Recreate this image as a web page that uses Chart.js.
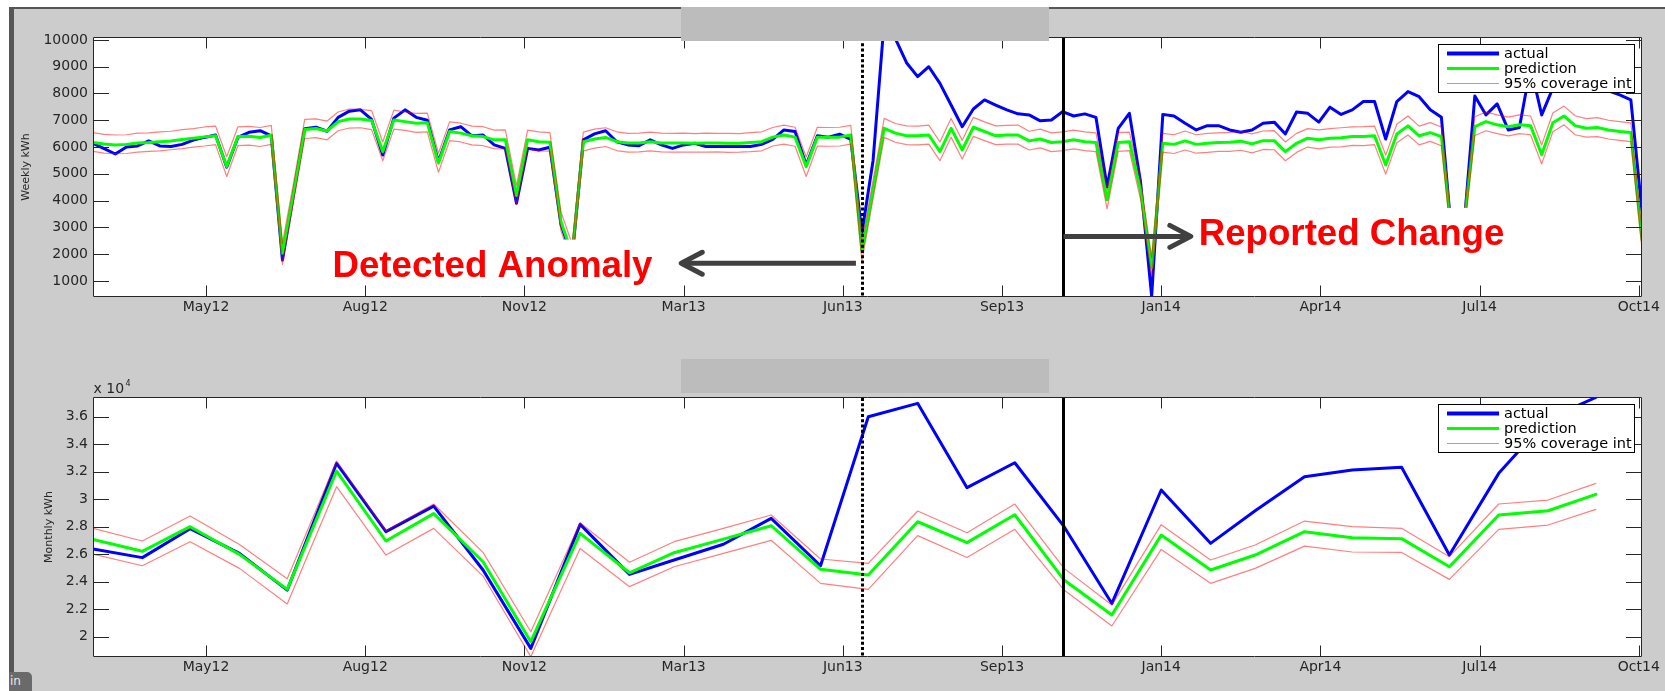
<!DOCTYPE html>
<html>
<head>
<meta charset="utf-8">
<title>Weekly and monthly energy use</title>
<script src="https://cdn.jsdelivr.net/npm/chart.js@4.4.1/dist/chart.umd.min.js"></script>
<style>
  html, body { margin: 0; padding: 0; width: 1665px; height: 691px; overflow: hidden; background: #ffffff; }
  #bg { position: absolute; left: 9px; top: 7px; right: 0; bottom: 0; background: #cccccc;
        border-left: 5px solid #565656; border-top: 2px solid #565656; }
  canvas { position: absolute; left: 0; }
  #weekly { top: 0; }
  #monthly { top: 350px; }
  .band { position: absolute; background: #bcbcbc; }
  #tab { position: absolute; left: 9px; top: 672px; width: 23px; height: 19px; background: #6a6a6a;
         border-top-right-radius: 5px; color: #e8e8e8; font: 12px "DejaVu Sans", sans-serif;
         line-height: 19px; padding-left: 1px; box-sizing: border-box; }
</style>
</head>
<body>
<div id="bg"></div>
<canvas id="weekly" width="1665" height="340"></canvas>
<canvas id="monthly" width="1665" height="341"></canvas>
<div class="band" style="left:681px;top:7px;width:368px;height:34px"></div>
<div class="band" style="left:681px;top:359px;width:368px;height:34px"></div>
<div id="tab">in</div>
<script>
// ---- weekly series (kWh), one value per week starting 1 Mar 2012 ----
const actualWeekly = [
  6140,5940,5740,6000,6040,6230,6040,6020,6100,6260,
  6360,6450,5250,6360,6550,6610,6420,1780,4250,6680,
  6740,6590,7110,7340,7390,7030,5700,7080,7390,7110,
  7000,5450,6640,6760,6420,6450,6080,5950,3900,5950,
  5890,5990,3100,1900,6270,6490,6610,6200,6080,6050,
  6270,6080,5950,6080,6140,6020,6020,6020,6020,6020,
  6100,6290,6640,6580,5330,6420,6370,6480,6290,2800,
  5500,10700,10050,9150,8630,9000,8380,7570,6760,7420,
  7760,7570,7390,7240,7200,6980,7010,7320,7160,7240,
  7110,4520,6700,7260,4700,420,7220,7160,6890,6640,
  6800,6800,6640,6550,6640,6890,6930,6490,7310,7260,
  6930,7490,7220,7390,7700,7700,6300,7700,8070,7880,
  7390,7110,2300,2900,7910,7200,7610,6640,6730,9000,
  7200,8200,8500,8400,8300,8200,8100,7950,7760,3600
];
const predictedWeekly = [
  6170,6110,6080,6100,6150,6170,6200,6230,6280,6330,
  6380,6420,5270,6390,6400,6360,6440,2030,4300,6660,
  6690,6600,6950,7050,7050,6990,5830,7010,6950,6890,
  6910,5400,6580,6520,6420,6390,6270,6270,4190,6270,
  6200,6180,3200,2000,6200,6300,6360,6200,6150,6150,
  6200,6150,6150,6150,6140,6150,6150,6140,6140,6170,
  6200,6370,6450,6370,5270,6370,6370,6370,6450,2100,
  4400,6700,6520,6420,6420,6450,5830,6700,5890,6740,
  6580,6420,6450,6450,6230,6300,6170,6200,6270,6200,
  6170,4030,6170,6200,4400,1500,6140,6100,6230,6100,
  6140,6170,6180,6220,6120,6240,6240,5830,6140,6330,
  6270,6330,6350,6390,6390,6420,5330,6490,6790,6420,
  6540,6390,2400,3000,6760,6950,6830,6760,6830,6800,
  5710,6910,7160,6800,6700,6730,6640,6580,6540,2530
];
const upperWeekly = [
  6540,6470,6450,6460,6520,6530,6570,6590,6650,6690,
  6750,6780,5640,6750,6770,6730,6810,2400,4660,7030,
  7050,6970,7310,7420,7410,7360,6190,7380,7310,7260,
  7270,5770,6940,6890,6780,6760,6630,6640,4560,6630,
  6570,6540,3570,2370,6560,6670,6720,6570,6510,6520,
  6560,6520,6510,6520,6500,6520,6510,6510,6500,6540,
  6570,6730,6820,6740,5630,6740,6730,6740,6810,2470,
  4760,7070,6880,6790,6780,6820,6190,7070,6250,7110,
  6940,6790,6810,6820,6590,6670,6530,6570,6630,6570,
  6530,4400,6540,6560,4770,1870,6510,6460,6600,6460,
  6510,6530,6550,6580,6490,6600,6610,6190,6510,6690,
  6640,6690,6720,6750,6760,6780,5700,6850,7160,6780,
  6910,6750,2760,3360,7130,7310,7200,7120,7200,7160,
  6080,7270,7530,7170,7060,7100,7000,6950,6900,2890
];
const lowerWeekly = [
  5840,5770,5750,5760,5810,5840,5860,5900,5940,6000,
  6040,6090,4900,6050,6070,6020,6100,1620,3960,6320,
  6350,6270,6610,6710,6720,6650,5490,6670,6620,6550,
  6570,5060,6240,6190,6080,6050,5940,5930,3850,5930,
  5860,5850,2860,1660,5860,5960,6020,5870,5810,5820,
  5860,5820,5810,5810,5810,5810,5820,5800,5810,5830,
  5860,6040,6110,6030,4900,6040,6030,6040,6110,1760,
  4060,6360,6180,6090,6080,6110,5490,6370,5550,6400,
  6240,6090,6110,6110,5890,5970,5830,5870,5930,5870,
  5830,3690,5840,5870,4060,1160,5810,5760,5890,5770,
  5800,5840,5840,5880,5780,5910,5900,5490,5800,6000,
  5930,6000,6010,6060,6050,6090,4990,6160,6450,6080,
  6210,6050,2060,2660,6430,6610,6500,6420,6500,6460,
  5370,6570,6830,6460,6370,6390,6300,6250,6200,2190
];

// ---- monthly series (kWh), one value per calendar month from Mar 2012 ----
const actualMonthly = [
  26380,25750,27850,26060,23390,32610,27640,29500,24850,19150,
  28170,24530,25580,26720,28610,25160,36000,36970,30840,32650,
  28000,22420,30670,26790,29160,31640,32120,32320,25940,31880,
  35850,37400
];
const predictedMonthly = [
  27080,26210,28000,25990,23440,32050,26960,28950,25450,19640,
  27520,24650,26110,27100,28070,24900,24480,28360,26840,28870,
  24120,21580,27390,24850,25940,27640,27200,27130,25090,28850,
  29160,30350
];
const upperMonthly = [
  27880,26960,28780,26710,24220,32780,27710,29650,26130,20360,
  28290,25410,26910,27880,28850,25650,25330,29140,27560,29650,
  24970,22300,28150,25580,26670,28410,28000,27880,25820,29650,
  29940,31150
];
const lowerMonthly = [
  26010,25160,26910,24970,22380,30910,25940,27880,24410,18550,
  26420,23640,25090,26060,27010,23880,23440,27350,25760,27810,
  23390,20780,26350,23880,24970,26590,26160,26130,24170,27810,
  28120,29260
];

// ---- axes ----
const tickDays   = [71, 171, 271, 371, 471, 571, 671, 771, 871, 971];
const tickLabels = ['May12','Aug12','Nov12','Mar13','Jun13','Sep13','Jan14','Apr14','Jul14','Oct14'];
const weeklyYTicks  = [1000,2000,3000,4000,5000,6000,7000,8000,9000,10000];
const weeklyYLabels = ['1000','2000','3000','4000','5000','6000','7000','8000','9000','10000'];
const monthlyYTicks  = [20000,22000,24000,26000,28000,30000,32000,34000,36000];
const monthlyYLabels = ['2','2.2','2.4','2.6','2.8','3','3.2','3.4','3.6'];
const seriesNames = ['actual', 'prediction', '95% coverage int'];

// weeks of the flagged anomaly and of the reported change
const anomalyWeek = 69;
const changeWeek = 87;

// day offsets from 1 Mar 2012
const START = Date.UTC(2012, 2, 1);
const DAY_MS = 86400000;
const weekDays = actualWeekly.map((_, i) => i * 7);
const monthDays = actualMonthly.map((_, i) => (Date.UTC(2012, 2 + i, 1) - START) / DAY_MS);
const lastDay = weekDays[weekDays.length - 1];

const INK = '#262626';
const TICK_FONT = { family: '"DejaVu Sans", sans-serif', size: 14 };
const RED = 'rgba(255,0,0,0.5)';

function series(label, days, values, color, width, order) {
  return {
    label, order,
    data: days.map((d, i) => ({ x: d, y: values[i] })),
    borderColor: color, borderWidth: width, pointRadius: 0, tension: 0,
    fill: false, clip: 0, borderJoinStyle: 'round', borderCapStyle: 'round'
  };
}

function arrow(ctx, xFrom, xTip, y) {
  const dir = Math.sign(xFrom - xTip);
  ctx.save();
  ctx.strokeStyle = '#404040';
  ctx.lineWidth = 5;
  ctx.lineCap = 'butt';
  ctx.beginPath();
  ctx.moveTo(xFrom, y);
  ctx.lineTo(xTip + dir * 3, y);
  ctx.stroke();
  ctx.lineCap = 'round';
  ctx.lineJoin = 'round';
  ctx.beginPath();
  ctx.moveTo(xTip + dir * 21, y - 11);
  ctx.lineTo(xTip, y);
  ctx.lineTo(xTip + dir * 21, y + 11);
  ctx.stroke();
  ctx.restore();
}

function boxedLabel(ctx, text, x, baseline) {
  ctx.save();
  ctx.font = 'bold 36.7px "Liberation Sans", Arial, sans-serif';
  const w = ctx.measureText(text).width;
  ctx.fillStyle = '#ffffff';
  ctx.fillRect(x - 5, baseline - 37, w + 10, 56);
  ctx.fillStyle = '#ff0000';
  ctx.textBaseline = 'alphabetic';
  ctx.fillText(text, x, baseline);
  ctx.restore();
}

function markerLine(chart, week, dotted) {
  const { ctx, chartArea: a, scales: { x } } = chart;
  const px = Math.round(x.getPixelForValue(week * 7)) + 0.5;
  ctx.save();
  ctx.strokeStyle = '#000000';
  ctx.lineWidth = 3;
  if (dotted) ctx.setLineDash([3, 2.3]);
  ctx.beginPath();
  ctx.moveTo(px, a.top + 1);
  ctx.lineTo(px, a.bottom);
  ctx.stroke();
  ctx.restore();
}

function drawFrame(chart, yTicks) {
  const { ctx, chartArea: a, scales: { x, y } } = chart;
  ctx.save();
  ctx.strokeStyle = INK;
  ctx.lineWidth = 1;
  ctx.beginPath();
  ctx.rect(a.left + 0.5, a.top + 0.5, a.right - a.left - 1, a.bottom - a.top - 1);
  for (const d of tickDays) {
    const px = Math.round(x.getPixelForValue(d)) + 0.5;
    ctx.moveTo(px, a.bottom); ctx.lineTo(px, a.bottom - 11.5);
    ctx.moveTo(px, a.top); ctx.lineTo(px, a.top + 11.5);
  }
  for (const v of yTicks) {
    const py = Math.round(y.getPixelForValue(v)) + 0.5;
    ctx.moveTo(a.left, py); ctx.lineTo(a.left + 16, py);
    ctx.moveTo(a.right, py); ctx.lineTo(a.right - 16, py);
  }
  ctx.stroke();
  ctx.restore();
}

function drawLegend(chart) {
  const { ctx, chartArea: a } = chart;
  const sets = chart.data.datasets;
  const w = 197, h = 49;
  const bx = Math.round(a.right - 7 - w), by = Math.round(a.top + 7);
  ctx.save();
  ctx.fillStyle = '#ffffff';
  ctx.fillRect(bx, by, w, h);
  ctx.strokeStyle = '#000000';
  ctx.lineWidth = 1;
  ctx.strokeRect(bx + 0.5, by + 0.5, w - 1, h - 1);
  ctx.font = '14.5px "DejaVu Sans", sans-serif';
  ctx.textBaseline = 'middle';
  seriesNames.forEach((name, k) => {
    const ds = sets.find(s => s.label === name);
    const y = by + 9.5 + 15 * k;
    ctx.strokeStyle = ds.borderColor;
    ctx.lineWidth = k === 0 ? 4 : ds.borderWidth;
    ctx.beginPath();
    ctx.moveTo(bx + 9, y);
    ctx.lineTo(bx + 61, y);
    ctx.stroke();
    ctx.fillStyle = '#000000';
    ctx.fillText(name, bx + 66, y + 0.5);
  });
  ctx.restore();
}

function yTitle(chart, text, cx) {
  const { ctx, chartArea: a } = chart;
  ctx.save();
  ctx.translate(cx, (a.top + a.bottom) / 2);
  ctx.rotate(-Math.PI / 2);
  ctx.font = '11px "DejaVu Sans", sans-serif';
  ctx.fillStyle = INK;
  ctx.textAlign = 'center';
  ctx.textBaseline = 'middle';
  ctx.fillText(text, 0, 0);
  ctx.restore();
}

// white plot background, drawn before the series
const plotBackground = {
  id: 'plotBackground',
  beforeDatasetsDraw(chart) {
    const { ctx, chartArea: a } = chart;
    ctx.save();
    ctx.fillStyle = '#ffffff';
    ctx.fillRect(a.left, a.top, a.right - a.left, a.bottom - a.top);
    ctx.restore();
  }
};

const weeklyDecor = {
  id: 'weeklyDecor',
  afterDatasetsDraw(chart) {
    const { ctx, scales: { x, y } } = chart;
    markerLine(chart, anomalyWeek, true);
    markerLine(chart, changeWeek, false);
    boxedLabel(ctx, 'Detected Anomaly', x.getPixelForValue(150.4), y.getPixelForValue(1160));
    arrow(ctx, x.getPixelForValue(anomalyWeek * 7) - 6, x.getPixelForValue(369.5), y.getPixelForValue(1660));
    boxedLabel(ctx, 'Reported Change', x.getPixelForValue(694.5), y.getPixelForValue(2345));
    arrow(ctx, x.getPixelForValue(changeWeek * 7) + 1, x.getPixelForValue(689.6), y.getPixelForValue(2663));
    drawFrame(chart, weeklyYTicks);
    drawLegend(chart);
    yTitle(chart, 'Weekly kWh', 26);
  }
};

const monthlyDecor = {
  id: 'monthlyDecor',
  afterDatasetsDraw(chart) {
    const { ctx, chartArea: a } = chart;
    markerLine(chart, anomalyWeek, true);
    markerLine(chart, changeWeek, false);
    drawFrame(chart, monthlyYTicks);
    drawLegend(chart);
    yTitle(chart, 'Monthly kWh', 49);
    ctx.save();
    ctx.fillStyle = INK;
    ctx.textBaseline = 'alphabetic';
    ctx.font = '14px "DejaVu Sans", sans-serif';
    ctx.fillText('x 10', a.left + 0.5, a.top - 4);
    const w = ctx.measureText('x 10').width;
    ctx.font = '8px "DejaVu Sans", sans-serif';
    ctx.fillText('4', a.left + 2 + w, a.top - 11);
    ctx.restore();
  }
};

function xAxis(height) {
  return {
    type: 'linear', min: 0, max: lastDay,
    afterBuildTicks: s => { s.ticks = tickDays.map(v => ({ value: v })); },
    afterFit: s => { s.height = height; },
    grid: { display: false, drawTicks: false, tickLength: 0 }, border: { display: false },
    ticks: { autoSkip: false, maxRotation: 0, minRotation: 0, padding: 1.5, color: INK, font: TICK_FONT,
             callback: (v, i) => tickLabels[i] }
  };
}

function yAxis(min, max, ticks, labels) {
  return {
    type: 'linear', min, max,
    afterBuildTicks: s => { s.ticks = ticks.map(v => ({ value: v })); },
    afterFit: s => { s.width = 93; },
    grid: { display: false, drawTicks: false, tickLength: 0 }, border: { display: false },
    ticks: { padding: 5, color: INK, font: TICK_FONT, callback: (v, i) => labels[i] }
  };
}

function baseOptions(top, xHeight, y) {
  return {
    responsive: false, animation: false, devicePixelRatio: 1,
    layout: { padding: { left: 0, top, right: 23, bottom: 0 } },
    plugins: { legend: { display: false }, tooltip: { enabled: false } },
    scales: { x: xAxis(xHeight), y }
  };
}

new Chart(document.getElementById('weekly'), {
  type: 'line',
  data: { datasets: [
    series('actual', weekDays, actualWeekly, '#0000ff', 3, 2),
    series('prediction', weekDays, predictedWeekly, '#00ff00', 3, 1),
    series('95% coverage int', weekDays, upperWeekly, RED, 1.2, 0),
    series('95% coverage int (lower)', weekDays, lowerWeekly, RED, 1.2, 0)
  ] },
  options: baseOptions(37, 43, yAxis(400, 10110, weeklyYTicks, weeklyYLabels)),
  plugins: [plotBackground, weeklyDecor]
});

new Chart(document.getElementById('monthly'), {
  type: 'line',
  data: { datasets: [
    series('actual', monthDays, actualMonthly, '#0000ff', 3, 2),
    series('prediction', monthDays, predictedMonthly, '#00ff00', 3, 1),
    series('95% coverage int', monthDays, upperMonthly, RED, 1.2, 0),
    series('95% coverage int (lower)', monthDays, lowerMonthly, RED, 1.2, 0)
  ] },
  options: baseOptions(47, 34, yAxis(18524, 37433, monthlyYTicks, monthlyYLabels)),
  plugins: [plotBackground, monthlyDecor]
});
</script>
</body>
</html>
